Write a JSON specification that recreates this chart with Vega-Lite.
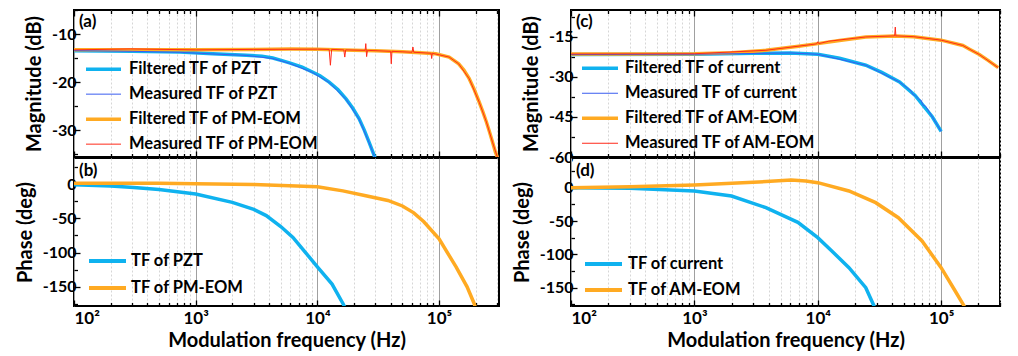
{
  "$schema": "https://vega.github.io/schema/vega-lite/v6.json",
  "padding": {"left": 14, "top": 8, "right": 5, "bottom": 4},
  "config": {
    "font": "Lato",
    "view": {"stroke": "#000", "strokeWidth": 2},
    "axis": {"domain": false, "labelFont": "Lato", "labelFontWeight": "bold", "labelFontSize": 16, "labelColor": "#000", "titleFont": "Lato", "titleFontWeight": "bold", "titleFontSize": 20, "titleColor": "#000", "tickColor": "#000", "tickWidth": 1.3, "labelPadding": 4, "titlePadding": 7},
    "legend": {"labelFont": "Lato", "labelFontWeight": "bold", "labelFontSize": 16.5, "labelColor": "#000", "symbolType": "stroke", "padding": 0, "rowPadding": 0, "title": null, "labelLimit": 400},
    "title": {"font": "Lato", "fontWeight": "bold", "fontSize": 17, "color": "#000", "anchor": "start", "frame": "group", "baseline": "top", "offset": -22, "dx": 5}
  },
  "datasets": {
    "d": [
      {"p":"a","s":"Filtered TF of PZT","f":100,"v":-13.5},{"p":"a","s":"Filtered TF of PZT","f":300,"v":-13.6},{"p":"a","s":"Filtered TF of PZT","f":740,"v":-13.75},{"p":"a","s":"Filtered TF of PZT","f":1380,"v":-14.1},{"p":"a","s":"Filtered TF of PZT","f":2600,"v":-14.4},{"p":"a","s":"Filtered TF of PZT","f":3500,"v":-14.6},{"p":"a","s":"Filtered TF of PZT","f":4300,"v":-15.0},{"p":"a","s":"Filtered TF of PZT","f":5200,"v":-15.6},{"p":"a","s":"Filtered TF of PZT","f":5900,"v":-16.0},{"p":"a","s":"Filtered TF of PZT","f":7500,"v":-16.9},{"p":"a","s":"Filtered TF of PZT","f":9100,"v":-17.9},{"p":"a","s":"Filtered TF of PZT","f":10500,"v":-18.7},{"p":"a","s":"Filtered TF of PZT","f":12500,"v":-20.0},{"p":"a","s":"Filtered TF of PZT","f":14800,"v":-21.6},{"p":"a","s":"Filtered TF of PZT","f":17200,"v":-23.5},{"p":"a","s":"Filtered TF of PZT","f":19500,"v":-25.4},{"p":"a","s":"Filtered TF of PZT","f":22000,"v":-27.6},{"p":"a","s":"Filtered TF of PZT","f":24300,"v":-30.0},{"p":"a","s":"Filtered TF of PZT","f":26600,"v":-32.5},{"p":"a","s":"Filtered TF of PZT","f":28500,"v":-34.5},{"p":"a","s":"Filtered TF of PZT","f":30000,"v":-36},
      {"p":"a","s":"Measured TF of PZT","f":100,"v":-13.45},{"p":"a","s":"Measured TF of PZT","f":300,"v":-13.6},{"p":"a","s":"Measured TF of PZT","f":740,"v":-13.8},{"p":"a","s":"Measured TF of PZT","f":1380,"v":-14.15},{"p":"a","s":"Measured TF of PZT","f":2600,"v":-14.45},{"p":"a","s":"Measured TF of PZT","f":4300,"v":-15.1},{"p":"a","s":"Measured TF of PZT","f":5900,"v":-16.1},{"p":"a","s":"Measured TF of PZT","f":9100,"v":-18.0},{"p":"a","s":"Measured TF of PZT","f":12500,"v":-20.1},{"p":"a","s":"Measured TF of PZT","f":17200,"v":-23.6},{"p":"a","s":"Measured TF of PZT","f":22000,"v":-27.7},{"p":"a","s":"Measured TF of PZT","f":26600,"v":-32.6},{"p":"a","s":"Measured TF of PZT","f":30000,"v":-36},
      {"p":"a","s":"Filtered TF of PM-EOM","f":100,"v":-13.3},{"p":"a","s":"Filtered TF of PM-EOM","f":300,"v":-13.25},{"p":"a","s":"Filtered TF of PM-EOM","f":1000,"v":-13.3},{"p":"a","s":"Filtered TF of PM-EOM","f":3000,"v":-13.2},{"p":"a","s":"Filtered TF of PM-EOM","f":6000,"v":-13.1},{"p":"a","s":"Filtered TF of PM-EOM","f":10000,"v":-13.15},{"p":"a","s":"Filtered TF of PM-EOM","f":20000,"v":-13.4},{"p":"a","s":"Filtered TF of PM-EOM","f":30000,"v":-13.5},{"p":"a","s":"Filtered TF of PM-EOM","f":50000,"v":-13.7},{"p":"a","s":"Filtered TF of PM-EOM","f":70000,"v":-13.9},{"p":"a","s":"Filtered TF of PM-EOM","f":94000,"v":-14.1},{"p":"a","s":"Filtered TF of PM-EOM","f":121000,"v":-14.8},{"p":"a","s":"Filtered TF of PM-EOM","f":145000,"v":-16.2},{"p":"a","s":"Filtered TF of PM-EOM","f":160000,"v":-17.5},{"p":"a","s":"Filtered TF of PM-EOM","f":177000,"v":-19.3},{"p":"a","s":"Filtered TF of PM-EOM","f":195000,"v":-21.6},{"p":"a","s":"Filtered TF of PM-EOM","f":214000,"v":-24.2},{"p":"a","s":"Filtered TF of PM-EOM","f":230000,"v":-26.3},{"p":"a","s":"Filtered TF of PM-EOM","f":245000,"v":-28.3},{"p":"a","s":"Filtered TF of PM-EOM","f":260000,"v":-30.4},{"p":"a","s":"Filtered TF of PM-EOM","f":275000,"v":-32.5},{"p":"a","s":"Filtered TF of PM-EOM","f":290000,"v":-34.5},{"p":"a","s":"Filtered TF of PM-EOM","f":305000,"v":-36},
      {"p":"a","s":"Measured TF of PM-EOM","f":100,"v":-13.3},{"p":"a","s":"Measured TF of PM-EOM","f":290,"v":-13.1},{"p":"a","s":"Measured TF of PM-EOM","f":1000,"v":-13.3},{"p":"a","s":"Measured TF of PM-EOM","f":3000,"v":-13.2},{"p":"a","s":"Measured TF of PM-EOM","f":10000,"v":-13.15},{"p":"a","s":"Measured TF of PM-EOM","f":12500,"v":-13.2},{"p":"a","s":"Measured TF of PM-EOM","f":12800,"v":-16.5},{"p":"a","s":"Measured TF of PM-EOM","f":13100,"v":-13.2},{"p":"a","s":"Measured TF of PM-EOM","f":16500,"v":-13.3},{"p":"a","s":"Measured TF of PM-EOM","f":16800,"v":-14.8},{"p":"a","s":"Measured TF of PM-EOM","f":17100,"v":-13.3},{"p":"a","s":"Measured TF of PM-EOM","f":24700,"v":-13.4},{"p":"a","s":"Measured TF of PM-EOM","f":25000,"v":-12.0},{"p":"a","s":"Measured TF of PM-EOM","f":25400,"v":-14.7},{"p":"a","s":"Measured TF of PM-EOM","f":25800,"v":-13.4},{"p":"a","s":"Measured TF of PM-EOM","f":40000,"v":-13.6},{"p":"a","s":"Measured TF of PM-EOM","f":40500,"v":-16.2},{"p":"a","s":"Measured TF of PM-EOM","f":41000,"v":-13.6},{"p":"a","s":"Measured TF of PM-EOM","f":60000,"v":-13.8},{"p":"a","s":"Measured TF of PM-EOM","f":61000,"v":-12.7},{"p":"a","s":"Measured TF of PM-EOM","f":62000,"v":-13.8},{"p":"a","s":"Measured TF of PM-EOM","f":86000,"v":-14.0},{"p":"a","s":"Measured TF of PM-EOM","f":87000,"v":-15.1},{"p":"a","s":"Measured TF of PM-EOM","f":88000,"v":-14.0},{"p":"a","s":"Measured TF of PM-EOM","f":121000,"v":-14.8},{"p":"a","s":"Measured TF of PM-EOM","f":145000,"v":-16.2},{"p":"a","s":"Measured TF of PM-EOM","f":177000,"v":-19.3},{"p":"a","s":"Measured TF of PM-EOM","f":214000,"v":-24.2},{"p":"a","s":"Measured TF of PM-EOM","f":245000,"v":-28.3},{"p":"a","s":"Measured TF of PM-EOM","f":275000,"v":-32.5},{"p":"a","s":"Measured TF of PM-EOM","f":305000,"v":-36},
      {"p":"b","s":"TF of PZT","f":100,"v":-1},{"p":"b","s":"TF of PZT","f":200,"v":-3},{"p":"b","s":"TF of PZT","f":310,"v":-5},{"p":"b","s":"TF of PZT","f":500,"v":-8},{"p":"b","s":"TF of PZT","f":1000,"v":-14.6},{"p":"b","s":"TF of PZT","f":2000,"v":-26.8},{"p":"b","s":"TF of PZT","f":3000,"v":-37},{"p":"b","s":"TF of PZT","f":3800,"v":-46},{"p":"b","s":"TF of PZT","f":5000,"v":-62},{"p":"b","s":"TF of PZT","f":6300,"v":-78},{"p":"b","s":"TF of PZT","f":8000,"v":-100},{"p":"b","s":"TF of PZT","f":10000,"v":-121},{"p":"b","s":"TF of PZT","f":13200,"v":-146},{"p":"b","s":"TF of PZT","f":16300,"v":-175},{"p":"b","s":"TF of PZT","f":17000,"v":-182},
      {"p":"b","s":"TF of PM-EOM","f":100,"v":1},{"p":"b","s":"TF of PM-EOM","f":500,"v":1},{"p":"b","s":"TF of PM-EOM","f":1000,"v":0.5},{"p":"b","s":"TF of PM-EOM","f":3000,"v":-0.5},{"p":"b","s":"TF of PM-EOM","f":10000,"v":-4},{"p":"b","s":"TF of PM-EOM","f":16200,"v":-10},{"p":"b","s":"TF of PM-EOM","f":25000,"v":-17},{"p":"b","s":"TF of PM-EOM","f":38000,"v":-24},{"p":"b","s":"TF of PM-EOM","f":50000,"v":-32},{"p":"b","s":"TF of PM-EOM","f":62000,"v":-42},{"p":"b","s":"TF of PM-EOM","f":75000,"v":-55},{"p":"b","s":"TF of PM-EOM","f":100000,"v":-80},{"p":"b","s":"TF of PM-EOM","f":138000,"v":-121},{"p":"b","s":"TF of PM-EOM","f":170000,"v":-150},{"p":"b","s":"TF of PM-EOM","f":195000,"v":-175},{"p":"b","s":"TF of PM-EOM","f":200000,"v":-182},
      {"p":"c","s":"Filtered TF of current","f":100,"v":-21.6},{"p":"c","s":"Filtered TF of current","f":1000,"v":-21.5},{"p":"c","s":"Filtered TF of current","f":3000,"v":-21.1},{"p":"c","s":"Filtered TF of current","f":6000,"v":-21.0},{"p":"c","s":"Filtered TF of current","f":10000,"v":-21.5},{"p":"c","s":"Filtered TF of current","f":15000,"v":-23.0},{"p":"c","s":"Filtered TF of current","f":24500,"v":-25.6},{"p":"c","s":"Filtered TF of current","f":33000,"v":-28.3},{"p":"c","s":"Filtered TF of current","f":46000,"v":-31.9},{"p":"c","s":"Filtered TF of current","f":61500,"v":-36.9},{"p":"c","s":"Filtered TF of current","f":85000,"v":-45},{"p":"c","s":"Filtered TF of current","f":100000,"v":-50.4},
      {"p":"c","s":"Measured TF of current","f":100,"v":-21.6},{"p":"c","s":"Measured TF of current","f":1000,"v":-21.5},{"p":"c","s":"Measured TF of current","f":6000,"v":-21.0},{"p":"c","s":"Measured TF of current","f":10000,"v":-21.5},{"p":"c","s":"Measured TF of current","f":24500,"v":-25.6},{"p":"c","s":"Measured TF of current","f":46000,"v":-31.9},{"p":"c","s":"Measured TF of current","f":57000,"v":-35.2},{"p":"c","s":"Measured TF of current","f":59000,"v":-36.6},{"p":"c","s":"Measured TF of current","f":61500,"v":-36.9},{"p":"c","s":"Measured TF of current","f":66000,"v":-38.4},{"p":"c","s":"Measured TF of current","f":69000,"v":-38.8},{"p":"c","s":"Measured TF of current","f":71000,"v":-40.5},{"p":"c","s":"Measured TF of current","f":75000,"v":-41.0},{"p":"c","s":"Measured TF of current","f":85000,"v":-45},{"p":"c","s":"Measured TF of current","f":100000,"v":-50.4},
      {"p":"c","s":"Filtered TF of AM-EOM","f":100,"v":-21.4},{"p":"c","s":"Filtered TF of AM-EOM","f":300,"v":-21.4},{"p":"c","s":"Filtered TF of AM-EOM","f":1000,"v":-21.3},{"p":"c","s":"Filtered TF of AM-EOM","f":2000,"v":-20.9},{"p":"c","s":"Filtered TF of AM-EOM","f":3800,"v":-20.0},{"p":"c","s":"Filtered TF of AM-EOM","f":7000,"v":-18.5},{"p":"c","s":"Filtered TF of AM-EOM","f":10000,"v":-17.5},{"p":"c","s":"Filtered TF of AM-EOM","f":15000,"v":-16.3},{"p":"c","s":"Filtered TF of AM-EOM","f":24500,"v":-15.0},{"p":"c","s":"Filtered TF of AM-EOM","f":42500,"v":-14.6},{"p":"c","s":"Filtered TF of AM-EOM","f":60000,"v":-14.9},{"p":"c","s":"Filtered TF of AM-EOM","f":100000,"v":-16.2},{"p":"c","s":"Filtered TF of AM-EOM","f":150000,"v":-18.2},{"p":"c","s":"Filtered TF of AM-EOM","f":170000,"v":-19.6},{"p":"c","s":"Filtered TF of AM-EOM","f":204000,"v":-21.6},{"p":"c","s":"Filtered TF of AM-EOM","f":240000,"v":-23.8},{"p":"c","s":"Filtered TF of AM-EOM","f":290000,"v":-26.5},
      {"p":"c","s":"Measured TF of AM-EOM","f":100,"v":-21.4},{"p":"c","s":"Measured TF of AM-EOM","f":1000,"v":-21.3},{"p":"c","s":"Measured TF of AM-EOM","f":3800,"v":-20.0},{"p":"c","s":"Measured TF of AM-EOM","f":9800,"v":-17.6},{"p":"c","s":"Measured TF of AM-EOM","f":10000,"v":-16.8},{"p":"c","s":"Measured TF of AM-EOM","f":10200,"v":-17.5},{"p":"c","s":"Measured TF of AM-EOM","f":12300,"v":-16.6},{"p":"c","s":"Measured TF of AM-EOM","f":24500,"v":-15.0},{"p":"c","s":"Measured TF of AM-EOM","f":42000,"v":-14.6},{"p":"c","s":"Measured TF of AM-EOM","f":42500,"v":-11.3},{"p":"c","s":"Measured TF of AM-EOM","f":43000,"v":-14.8},{"p":"c","s":"Measured TF of AM-EOM","f":43500,"v":-14.6},{"p":"c","s":"Measured TF of AM-EOM","f":60000,"v":-14.9},{"p":"c","s":"Measured TF of AM-EOM","f":100000,"v":-16.2},{"p":"c","s":"Measured TF of AM-EOM","f":150000,"v":-18.2},{"p":"c","s":"Measured TF of AM-EOM","f":170000,"v":-19.6},{"p":"c","s":"Measured TF of AM-EOM","f":204000,"v":-21.6},{"p":"c","s":"Measured TF of AM-EOM","f":290000,"v":-26.5},
      {"p":"d","s":"TF of current","f":100,"v":0},{"p":"d","s":"TF of current","f":300,"v":-1},{"p":"d","s":"TF of current","f":1000,"v":-5},{"p":"d","s":"TF of current","f":2000,"v":-12.5},{"p":"d","s":"TF of current","f":3800,"v":-30},{"p":"d","s":"TF of current","f":6900,"v":-52},{"p":"d","s":"TF of current","f":10000,"v":-75},{"p":"d","s":"TF of current","f":13000,"v":-95},{"p":"d","s":"TF of current","f":17900,"v":-120},{"p":"d","s":"TF of current","f":24500,"v":-150},{"p":"d","s":"TF of current","f":28500,"v":-177},{"p":"d","s":"TF of current","f":29000,"v":-182},
      {"p":"d","s":"TF of AM-EOM","f":100,"v":0},{"p":"d","s":"TF of AM-EOM","f":300,"v":1.5},{"p":"d","s":"TF of AM-EOM","f":1000,"v":4},{"p":"d","s":"TF of AM-EOM","f":3000,"v":8},{"p":"d","s":"TF of AM-EOM","f":6100,"v":11.5},{"p":"d","s":"TF of AM-EOM","f":8000,"v":10},{"p":"d","s":"TF of AM-EOM","f":10000,"v":7.5},{"p":"d","s":"TF of AM-EOM","f":17900,"v":-5},{"p":"d","s":"TF of AM-EOM","f":29500,"v":-22.5},{"p":"d","s":"TF of AM-EOM","f":45000,"v":-45},{"p":"d","s":"TF of AM-EOM","f":70000,"v":-80},{"p":"d","s":"TF of AM-EOM","f":100000,"v":-120},{"p":"d","s":"TF of AM-EOM","f":130000,"v":-155},{"p":"d","s":"TF of AM-EOM","f":153000,"v":-177},{"p":"d","s":"TF of AM-EOM","f":156000,"v":-182}
    ]
  },
  "bounds": "flush",
  "columns": 2,
  "spacing": {"row": 1, "column": 72},
  "resolve": {"scale": {"color": "independent", "strokeWidth": "independent"}, "legend": {"color": "independent", "strokeWidth": "independent"}},
  "concat": [
    {
      "width": 425, "height": 147,
      "title": {"text": "(a)"},
      "data": {"name": "d"},
      "transform": [{"filter": "datum.p == 'a'"}],
      "resolve": {"axis": {"x": "independent"}},
      "encoding": {
        "color": {"field": "s", "type": "nominal", "scale": {"domain": ["Filtered TF of PZT","Measured TF of PZT","Filtered TF of PM-EOM","Measured TF of PM-EOM"], "range": ["#0fb2ef","#3a5cf0","#ffaa22","#ff2a1a"]},
          "legend": {"orient": "none", "legendX": 10, "legendY": 47, "clipHeight": 24.3, "symbolSize": 1225, "labelOffset": 6}},
        "strokeWidth": {"field": "s", "type": "nominal", "scale": {"type": "ordinal", "domain": ["Filtered TF of PZT","Measured TF of PZT","Filtered TF of PM-EOM","Measured TF of PM-EOM"], "range": [3.5, 1, 3.5, 1]},
          "legend": {"orient": "none", "legendX": 10, "legendY": 47, "clipHeight": 24.3, "symbolSize": 1225, "labelOffset": 6}}
      },
      "layer": [
        {
          "transform": [{"filter": "indexof(datum.s, 'Filtered') == 0"}],
          "mark": {"type": "line", "clip": true},
          "encoding": {
            "x": {"field": "f", "type": "quantitative", "scale": {"type": "log", "domain": [100, 311000], "nice": false},
              "axis": {"orient": "bottom", "values": [100,200,300,400,500,600,700,800,900,1000,2000,3000,4000,5000,6000,7000,8000,9000,10000,20000,30000,40000,50000,60000,70000,80000,90000,100000,200000,300000], "labels": false, "title": null, "grid": true,
                "gridColor": {"condition": {"test": "indexof([100,1000,10000,100000], datum.value) >= 0", "value": "#a0a0a0"}, "value": "#d6d6d6"},
                "gridDash": {"condition": {"test": "indexof([100,1000,10000,100000], datum.value) >= 0", "value": []}, "value": [2, 2]},
                "tickSize": {"condition": {"test": "indexof([100,1000,10000,100000], datum.value) >= 0", "value": -6}, "value": -3.5}}},
            "y": {"field": "v", "type": "quantitative", "scale": {"domain": [-35.6, -5], "nice": false, "zero": false},
              "axis": {"values": [-35,-30,-25,-20,-15,-10,-5], "labelExpr": "datum.value % 10 == 0 ? '' + datum.value : ''", "title": "Magnitude (dB)", "grid": false,
                "tickSize": {"condition": {"test": "datum.value % 10 == 0", "value": -6}, "value": -3.5}}}
          }
        },
        {
          "transform": [{"filter": "indexof(datum.s, 'Measured') == 0"}],
          "mark": {"type": "line", "clip": true},
          "encoding": {
            "x": {"field": "f", "type": "quantitative", "scale": {"type": "log", "domain": [100, 311000], "nice": false},
              "axis": {"orient": "top", "values": [100,200,300,400,500,600,700,800,900,1000,2000,3000,4000,5000,6000,7000,8000,9000,10000,20000,30000,40000,50000,60000,70000,80000,90000,100000,200000,300000], "labels": false, "title": null, "grid": false,
                "tickSize": {"condition": {"test": "indexof([100,1000,10000,100000], datum.value) >= 0", "value": -6}, "value": -3.5}}},
            "y": {"field": "v", "type": "quantitative", "scale": {"domain": [-35.6, -5], "nice": false, "zero": false},
              "axis": {"values": [-35,-30,-25,-20,-15,-10,-5], "labelExpr": "datum.value % 10 == 0 ? '' + datum.value : ''", "title": "Magnitude (dB)", "grid": false,
                "tickSize": {"condition": {"test": "datum.value % 10 == 0", "value": -6}, "value": -3.5}}}
          }
        }
      ]
    },
    {
      "width": 429, "height": 147,
      "title": {"text": "(c)"},
      "data": {"name": "d"},
      "transform": [{"filter": "datum.p == 'c'"}],
      "resolve": {"axis": {"x": "independent"}},
      "encoding": {
        "color": {"field": "s", "type": "nominal", "scale": {"domain": ["Filtered TF of current","Measured TF of current","Filtered TF of AM-EOM","Measured TF of AM-EOM"], "range": ["#0fb2ef","#3a5cf0","#ffaa22","#ff2a1a"]},
          "legend": {"orient": "none", "legendX": 9, "legendY": 46, "clipHeight": 24.5, "symbolSize": 1296, "labelOffset": 5}},
        "strokeWidth": {"field": "s", "type": "nominal", "scale": {"type": "ordinal", "domain": ["Filtered TF of current","Measured TF of current","Filtered TF of AM-EOM","Measured TF of AM-EOM"], "range": [3.5, 1, 3.5, 1]},
          "legend": {"orient": "none", "legendX": 9, "legendY": 46, "clipHeight": 24.5, "symbolSize": 1296, "labelOffset": 5}}
      },
      "layer": [
        {
          "transform": [{"filter": "indexof(datum.s, 'Filtered') == 0"}],
          "mark": {"type": "line", "clip": true},
          "encoding": {
            "x": {"field": "f", "type": "quantitative", "scale": {"type": "log", "domain": [100, 300000], "nice": false},
              "axis": {"orient": "bottom", "values": [100,200,300,400,500,600,700,800,900,1000,2000,3000,4000,5000,6000,7000,8000,9000,10000,20000,30000,40000,50000,60000,70000,80000,90000,100000,200000,300000], "labels": false, "title": null, "grid": true,
                "gridColor": {"condition": {"test": "indexof([100,1000,10000,100000], datum.value) >= 0", "value": "#a0a0a0"}, "value": "#d6d6d6"},
                "gridDash": {"condition": {"test": "indexof([100,1000,10000,100000], datum.value) >= 0", "value": []}, "value": [2, 2]},
                "tickSize": {"condition": {"test": "indexof([100,1000,10000,100000], datum.value) >= 0", "value": -6}, "value": -3.5}}},
            "y": {"field": "v", "type": "quantitative", "scale": {"domain": [-60, -4.9], "nice": false, "zero": false},
              "axis": {"values": [-60,-52.5,-45,-37.5,-30,-22.5,-15,-7.5], "labelExpr": "datum.value % 15 == 0 ? '' + datum.value : ''", "title": "Magnitude (dB)", "grid": false,
                "tickSize": {"condition": {"test": "datum.value % 15 == 0", "value": -6}, "value": -3.5}}}
          }
        },
        {
          "transform": [{"filter": "indexof(datum.s, 'Measured') == 0"}],
          "mark": {"type": "line", "clip": true},
          "encoding": {
            "x": {"field": "f", "type": "quantitative", "scale": {"type": "log", "domain": [100, 300000], "nice": false},
              "axis": {"orient": "top", "values": [100,200,300,400,500,600,700,800,900,1000,2000,3000,4000,5000,6000,7000,8000,9000,10000,20000,30000,40000,50000,60000,70000,80000,90000,100000,200000,300000], "labels": false, "title": null, "grid": false,
                "tickSize": {"condition": {"test": "indexof([100,1000,10000,100000], datum.value) >= 0", "value": -6}, "value": -3.5}}},
            "y": {"field": "v", "type": "quantitative", "scale": {"domain": [-60, -4.9], "nice": false, "zero": false},
              "axis": {"values": [-60,-52.5,-45,-37.5,-30,-22.5,-15,-7.5], "labelExpr": "datum.value % 15 == 0 ? '' + datum.value : ''", "title": "Magnitude (dB)", "grid": false,
                "tickSize": {"condition": {"test": "datum.value % 15 == 0", "value": -6}, "value": -3.5}}}
          }
        }
      ]
    },
    {
      "width": 425, "height": 148,
      "title": {"text": "(b)"},
      "data": {"name": "d"},
      "transform": [{"filter": "datum.p == 'b'"}],
      "mark": {"type": "line", "clip": true, "strokeWidth": 3.5},
      "encoding": {
        "x": {"field": "f", "type": "quantitative", "scale": {"type": "log", "domain": [100, 311000], "nice": false},
          "axis": {"orient": "bottom", "values": [100,200,300,400,500,600,700,800,900,1000,2000,3000,4000,5000,6000,7000,8000,9000,10000,20000,30000,40000,50000,60000,70000,80000,90000,100000,200000,300000],
            "labelExpr": "datum.value == 100 ? '10²' : datum.value == 1000 ? '10³' : datum.value == 10000 ? '10⁴' : datum.value == 100000 ? '10⁵' : ''",
            "labelFontSize": 17, "labelPadding": 10, "title": "Modulation frequency (Hz)", "titlePadding": 4, "grid": true,
            "gridColor": {"condition": {"test": "indexof([100,1000,10000,100000], datum.value) >= 0", "value": "#a0a0a0"}, "value": "#d6d6d6"},
            "gridDash": {"condition": {"test": "indexof([100,1000,10000,100000], datum.value) >= 0", "value": []}, "value": [2, 2]},
            "tickSize": {"condition": {"test": "indexof([100,1000,10000,100000], datum.value) >= 0", "value": -6}, "value": -3.5}}},
        "y": {"field": "v", "type": "quantitative", "scale": {"domain": [-178, 38], "nice": false, "zero": false},
          "axis": {"values": [-175,-150,-125,-100,-75,-50,-25,0,25], "labelExpr": "datum.value % 50 == 0 ? '' + datum.value : ''", "title": "Phase (deg)", "grid": false,
            "tickSize": {"condition": {"test": "datum.value % 50 == 0", "value": -6}, "value": -3.5}}},
        "color": {"field": "s", "type": "nominal", "scale": {"domain": ["TF of PZT","TF of PM-EOM"], "range": ["#0fb2ef","#ffaa22"]},
          "legend": {"orient": "none", "legendX": 13, "legendY": 89.5, "clipHeight": 27, "symbolSize": 1369, "symbolStrokeWidth": 4, "labelOffset": 3}}
      }
    },
    {
      "width": 429, "height": 148,
      "title": {"text": "(d)"},
      "data": {"name": "d"},
      "transform": [{"filter": "datum.p == 'd'"}],
      "mark": {"type": "line", "clip": true, "strokeWidth": 3.5},
      "encoding": {
        "x": {"field": "f", "type": "quantitative", "scale": {"type": "log", "domain": [100, 300000], "nice": false},
          "axis": {"orient": "bottom", "values": [100,200,300,400,500,600,700,800,900,1000,2000,3000,4000,5000,6000,7000,8000,9000,10000,20000,30000,40000,50000,60000,70000,80000,90000,100000,200000,300000],
            "labelExpr": "datum.value == 100 ? '10²' : datum.value == 1000 ? '10³' : datum.value == 10000 ? '10⁴' : datum.value == 100000 ? '10⁵' : ''",
            "labelFontSize": 17, "labelPadding": 10, "title": "Modulation frequency (Hz)", "titlePadding": 4, "grid": true,
            "gridColor": {"condition": {"test": "indexof([100,1000,10000,100000], datum.value) >= 0", "value": "#a0a0a0"}, "value": "#d6d6d6"},
            "gridDash": {"condition": {"test": "indexof([100,1000,10000,100000], datum.value) >= 0", "value": []}, "value": [2, 2]},
            "tickSize": {"condition": {"test": "indexof([100,1000,10000,100000], datum.value) >= 0", "value": -6}, "value": -3.5}}},
        "y": {"field": "v", "type": "quantitative", "scale": {"domain": [-177.5, 44.5], "nice": false, "zero": false},
          "axis": {"values": [-175,-150,-125,-100,-75,-50,-25,0,25], "labelExpr": "datum.value % 50 == 0 ? '' + datum.value : ''", "title": "Phase (deg)", "grid": false,
            "tickSize": {"condition": {"test": "datum.value % 50 == 0", "value": -6}, "value": -3.5}}},
        "color": {"field": "s", "type": "nominal", "scale": {"domain": ["TF of current","TF of AM-EOM"], "range": ["#0fb2ef","#ffaa22"]},
          "legend": {"orient": "none", "legendX": 12, "legendY": 93, "clipHeight": 26, "symbolSize": 1369, "symbolStrokeWidth": 4, "labelOffset": 4}}
      }
    }
  ]
}
